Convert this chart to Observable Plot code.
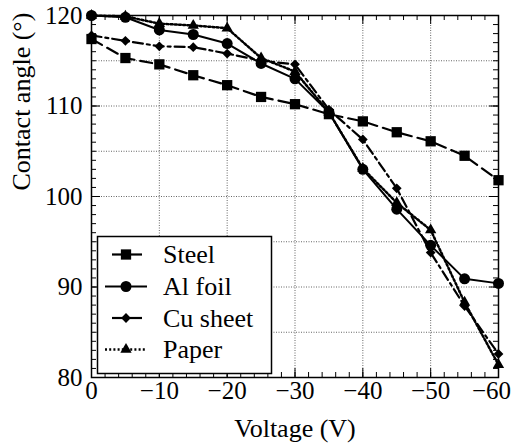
<!DOCTYPE html>
<html>
<head>
<meta charset="utf-8">
<script src="https://cdn.jsdelivr.net/npm/d3@7"></script>
<script src="https://cdn.jsdelivr.net/npm/@observablehq/plot@0.6"></script>
<style>
  html, body { margin: 0; padding: 0; background: #fff; }
  #chart { width: 513px; height: 445px; }
  #chart svg, #chart svg text { font-family: "Liberation Serif", "DejaVu Serif", "Times New Roman", Times, serif !important; }
</style>
</head>
<body>
<div id="chart"></div>
<script>
// ---- data ----
const voltage = [0, -5, -10, -15, -20, -25, -30, -35, -40, -45, -50, -55, -60];
const steel   = [117.4, 115.3, 114.6, 113.4, 112.3, 111.0, 110.2, 109.1, 108.3, 107.1, 106.1, 104.5, 101.8];
const alFoil  = [120.0, 119.8, 118.4, 117.9, 116.9, 114.7, 113.0, 109.3, 103.0, 98.6, 94.6, 90.9, 90.4];
const cuSheet = [117.8, 117.2, 116.6, 116.5, 115.8, 115.0, 114.6, 109.6, 106.3, 100.9, 93.8, 87.9, 82.6];
const paper   = [120.0, 119.9, 119.1, 118.9, 118.6, 115.3, 113.8, 109.3, 103.1, 99.3, 96.3, 88.3, 81.4];
const seriesNames = ["Steel", "Al foil", "Cu sheet", "Paper"];
const xTickValues = [0, -10, -20, -30, -40, -50, -60];
const yTickValues = [80, 90, 100, 110, 120];
const xGrid = [-10, -20, -30, -40, -50];
const yGrid = [85, 90, 95, 100, 105, 110, 115];
const xMinor = d3.range(0, -61, -2);
const yMinor = d3.range(80, 121, 1);
const xLabel = "Voltage (V)";
const yLabel = "Contact angle (°)";

// ---- styles ----
const styles = {
  "Steel":    {symbol: "square",   r: 5.8, dash: "12,6",     width: 2.2},
  "Al foil":  {symbol: "circle",   r: 5.5, dash: null,       width: 2},
  "Cu sheet": {symbol: "diamond2", r: 4.4, dash: "10,4,3,4", width: 2.2},
  "Paper":    {symbol: "triangle", r: 4.2, dash: "2,2.2",    width: 2.5}
};

const values = [steel, alFoil, cuSheet, paper];
const rows = [];
seriesNames.forEach((s, i) => voltage.forEach((v, j) => rows.push({series: s, voltage: v, angle: values[i][j]})));

const W = 513, H = 445;
const mL = 91, mR = 15, mT = 15, mB = 68;
const fw = W - mL - mR, fh = H - mT - mB;
const font = "Liberation Serif, DejaVu Serif, Times New Roman, serif";
const fmt = d => d === 0 ? "0" : "−" + Math.abs(d);

const marks = [
  Plot.ruleX(xGrid, {stroke: "#666", strokeWidth: 1, strokeDasharray: "1,1.5"}),
  Plot.ruleY(yGrid, {stroke: "#666", strokeWidth: 1, strokeDasharray: "1,1.5"}),
];
for (const s of seriesNames) {
  const st = styles[s];
  const d = rows.filter(r => r.series === s);
  marks.push(Plot.line(d, {x: "voltage", y: "angle", stroke: "black", strokeWidth: st.width,
    strokeDasharray: st.dash || undefined, strokeLinejoin: "round"}));
}
for (const s of seriesNames) {
  const st = styles[s];
  const d = rows.filter(r => r.series === s);
  marks.push(Plot.dot(d, {x: "voltage", y: "angle", symbol: () => st.symbol, r: st.r, fill: "black", stroke: "none"}));
}
// ticks (inward, mirrored)
const xMaj = xTickValues, yMaj = yTickValues;
const lastX = xTickValues[xTickValues.length - 1];
marks.push(
  Plot.tickX(xMinor, {x: d => d, insetTop: fh - 5, stroke: "black", strokeWidth: 1}),
  Plot.tickX(xMinor, {x: d => d, insetBottom: fh - 5, stroke: "black", strokeWidth: 1}),
  Plot.tickX(xMaj, {x: d => d, insetTop: fh - 9, stroke: "black", strokeWidth: 1}),
  Plot.tickX(xMaj, {x: d => d, insetBottom: fh - 9, stroke: "black", strokeWidth: 1}),
  Plot.tickY(yMinor, {y: d => d, insetRight: fw - 5, stroke: "black", strokeWidth: 1}),
  Plot.tickY(yMinor, {y: d => d, insetLeft: fw - 5, stroke: "black", strokeWidth: 1}),
  Plot.tickY(yMaj, {y: d => d, insetRight: fw - 9, stroke: "black", strokeWidth: 1}),
  Plot.tickY(yMaj, {y: d => d, insetLeft: fw - 9, stroke: "black", strokeWidth: 1}),
  Plot.frame({stroke: "black", strokeWidth: 1.5}),
  Plot.axisX(xTickValues.filter(d => d !== lastX), {tickSize: 0, tickPadding: 4, fontSize: 25, label: null, tickFormat: fmt}),
  Plot.axisX([lastX], {tickSize: 0, tickPadding: 4, fontSize: 25, label: null, tickFormat: fmt, dx: -7}),
  Plot.axisY(yTickValues, {tickSize: 0, tickPadding: 9, fontSize: 25, label: null}),
  Plot.text([xLabel], {frameAnchor: "bottom", lineAnchor: "bottom", dy: 59, fontSize: 26, fill: "black"}),
  Plot.text([yLabel], {frameAnchor: "left", rotate: -90, dx: -70, dy: -6, lineAnchor: "middle", fontSize: 26, fill: "black"})
);

const chart = Plot.plot({
  width: W, height: H,
  marginLeft: mL, marginRight: mR, marginTop: mT, marginBottom: mB,
  style: {fontFamily: font, color: "black", background: "white", overflow: "visible"},
  x: {domain: [0, -60]},
  y: {domain: [80, 120]},
  marks
});
document.getElementById("chart").appendChild(chart);

// ---- legend (inside the plot frame, lower left) ----
const svg = d3.select(chart);
const lg = svg.append("g").attr("font-family", font).attr("text-anchor", "start");
lg.append("rect").attr("x", 97.5).attr("y", 236.5).attr("width", 174).attr("height", 137)
  .attr("fill", "white").attr("stroke", "black").attr("stroke-width", 1.5);
const symMap = {square: d3.symbolSquare, circle: d3.symbolCircle, diamond2: d3.symbolDiamond2, triangle: d3.symbolTriangle};
const legendRows = [
  {name: "Steel", y: 254.5, x1: 112, x2: 142},
  {name: "Al foil", y: 286.5, x1: 105, x2: 147},
  {name: "Cu sheet", y: 318, x1: 112, x2: 142},
  {name: "Paper", y: 349.5, x1: 105, x2: 145}
];
legendRows.forEach(r => {
  const st = styles[r.name];
  const l = lg.append("line").attr("x1", r.x1).attr("x2", r.x2).attr("y1", r.y).attr("y2", r.y)
    .attr("stroke", "black").attr("stroke-width", st.width);
  if (r.name === "Paper") l.attr("stroke-dasharray", st.dash);
  lg.append("path").attr("transform", `translate(126,${r.y})`)
    .attr("d", d3.symbol(symMap[st.symbol], Math.PI * st.r * st.r)()).attr("fill", "black");
  lg.append("text").attr("x", 163).attr("y", r.y + 8.7).attr("font-size", 26).attr("fill", "black")
    .attr("text-anchor", "start").text(r.name);
});
</script>
</body>
</html>
